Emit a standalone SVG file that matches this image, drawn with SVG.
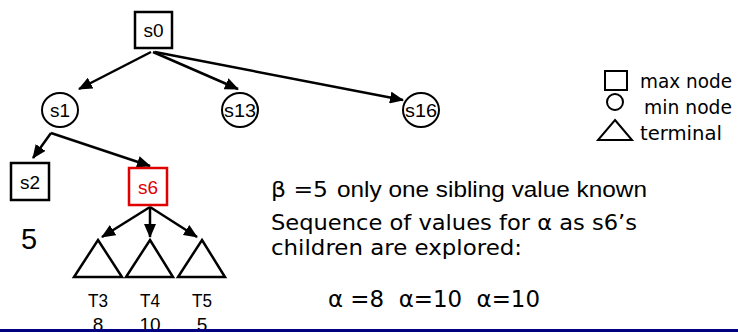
<svg xmlns="http://www.w3.org/2000/svg" width="738" height="332" viewBox="0 0 738 332">
<style>
.box{fill:#fff;stroke:#000;stroke-width:2.5}
.red{fill:#fff;stroke:#e00000;stroke-width:2.5}
.circ{fill:#fff;stroke:#000;stroke-width:2}
.tri{fill:#fff;stroke:#000;stroke-width:2.5;stroke-linejoin:miter}
.lbl{font-family:"Liberation Sans",Arial,sans-serif;font-size:19px;text-anchor:middle;fill:#000}
.comic{font-family:"DejaVu Sans","Liberation Sans",sans-serif;fill:#000}
.arial{font-family:"Liberation Sans",Arial,sans-serif;fill:#000}
.edge{stroke:#000;stroke-width:2.5;fill:none;marker-end:url(#ah)}
</style>
<defs>
<marker id="ah" markerUnits="userSpaceOnUse" markerWidth="14" markerHeight="12" refX="13" refY="6" orient="auto">
<path d="M0,0 L14,6 L0,12 z" fill="#000"/>
</marker>
</defs>
<rect width="738" height="332" fill="#fff"/>
<g id="connectors">
<line class="edge" x1="151" y1="52" x2="79" y2="89"/>
<line class="edge" x1="153" y1="52" x2="238" y2="89"/>
<line class="edge" x1="155" y1="52" x2="403" y2="100"/>
<line class="edge" x1="51" y1="133" x2="33" y2="158"/>
<line class="edge" x1="51" y1="133" x2="150" y2="166"/>
<line class="edge" x1="150" y1="207" x2="102" y2="237"/>
<line class="edge" x1="150" y1="207" x2="150" y2="237"/>
<line class="edge" x1="150" y1="207" x2="197" y2="237"/>
</g>
<g id="s0"><rect class="box" x="135" y="12" width="37" height="36"/><text class="lbl" x="153.5" y="37">s0</text></g>
<g id="s1"><ellipse class="circ" cx="60" cy="110" rx="18" ry="17"/><text class="lbl" x="60" y="117" textLength="20" lengthAdjust="spacingAndGlyphs">s1</text></g>
<g id="s13"><ellipse class="circ" cx="240" cy="110" rx="18" ry="17"/><text class="lbl" x="240" y="117" textLength="32" lengthAdjust="spacingAndGlyphs">s13</text></g>
<g id="s16"><ellipse class="circ" cx="421" cy="110" rx="18" ry="17"/><text class="lbl" x="421" y="117" textLength="32" lengthAdjust="spacingAndGlyphs">s16</text></g>
<g id="s2"><rect class="box" x="11" y="163" width="38" height="37"/><text class="lbl" x="30" y="189">s2</text></g>
<g id="s6"><rect class="red" x="129" y="168" width="38" height="37"/><text class="lbl" x="148" y="194" style="fill:#e00000">s6</text></g>
<g id="T3"><polygon class="tri" points="98,240 122,277 74,277"/><text class="lbl" x="98" y="307" textLength="20" lengthAdjust="spacingAndGlyphs">T3</text><text class="lbl" x="98" y="331">8</text></g>
<g id="T4"><polygon class="tri" points="150,240 173,277 126,277"/><text class="lbl" x="150" y="307" textLength="20" lengthAdjust="spacingAndGlyphs">T4</text><text class="lbl" x="150" y="331">10</text></g>
<g id="T5"><polygon class="tri" points="202,240 225,277 178,277"/><text class="lbl" x="202" y="307" textLength="20" lengthAdjust="spacingAndGlyphs">T5</text><text class="lbl" x="202" y="331">5</text></g>
<text class="arial" x="29" y="249" font-size="29" text-anchor="middle">5</text>
<g id="legend">
<rect x="605" y="71" width="22" height="19" fill="#fff" stroke="#000" stroke-width="2"/>
<text class="comic" x="640" y="88" font-size="19" textLength="92" lengthAdjust="spacingAndGlyphs">max node</text>
<circle cx="615" cy="102" r="8" fill="#fff" stroke="#000" stroke-width="2"/>
<text class="comic" x="644" y="114" font-size="19" textLength="88" lengthAdjust="spacingAndGlyphs">min node</text>
<polygon points="615,120 632,140 598,140" fill="#fff" stroke="#000" stroke-width="2"/>
<text class="comic" x="640" y="140" font-size="19" textLength="82" lengthAdjust="spacingAndGlyphs">terminal</text>
</g>
<text class="comic" x="271" y="197" font-size="22" textLength="57" lengthAdjust="spacingAndGlyphs">β =5</text>
<text class="arial" x="337" y="197" font-size="22" textLength="310" lengthAdjust="spacingAndGlyphs">only one sibling value known</text>
<text class="comic" x="271" y="230" font-size="21" textLength="366" lengthAdjust="spacingAndGlyphs">Sequence of values for α as s6’s</text>
<text class="comic" x="271" y="255" font-size="21" textLength="251" lengthAdjust="spacingAndGlyphs">children are explored:</text>
<text class="comic" x="328" y="307" font-size="23" textLength="212" lengthAdjust="spacingAndGlyphs" xml:space="preserve">α =8  α=10  α=10</text>
<line x1="0" y1="330.5" x2="738" y2="330.5" stroke="#000080" stroke-width="3"/>
</svg>
